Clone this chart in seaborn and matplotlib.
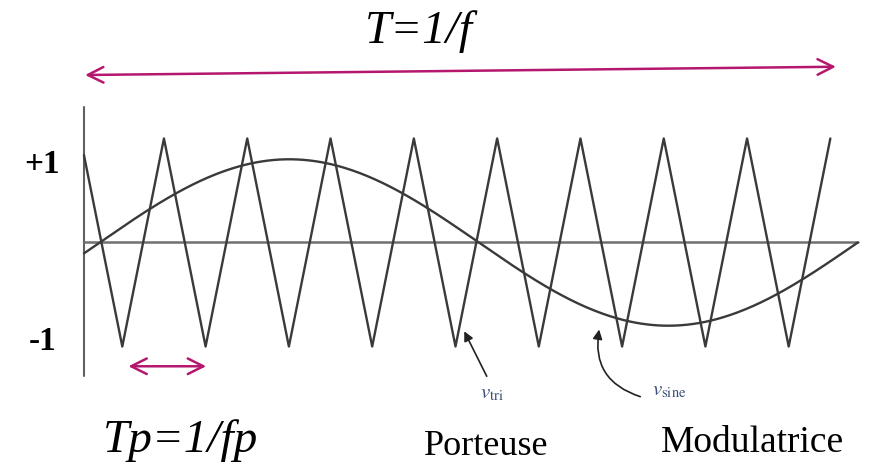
import matplotlib
matplotlib.use("Agg")
import matplotlib.pyplot as plt
import numpy as np
import pandas as pd
import seaborn as sns

# triangle carrier (porteuse): vertices, x in carrier periods
tri_x = [0, 0.46, 0.96, 1.46, 1.96, 2.46, 2.96, 3.46, 3.96, 4.46,
         4.96, 5.46, 5.96, 6.46, 6.96, 7.46, 7.96, 8.46, 8.96]
tri_y = [0.84, -1, 1, -1, 1, -1, 1, -1, 1, -1,
         1, -1, 1, -1, 1, -1, 1, -1, 1]

# sine modulator (modulatrice): amplitude, period and first zero crossing
sine_amp = 0.80
sine_period = 9.1
sine_zero = 0.19
sine_end = 9.29

tick_labels = ["+1", "-1"]
tick_values = [0.755, -0.94]

sns.set_style("white")
plt.rcParams["mathtext.fontset"] = "stix"

fig = plt.figure(figsize=(8.72, 4.64), dpi=100)
ax = fig.add_axes([0, 0, 1, 1])

tri_df = pd.DataFrame({"x": tri_x, "y": tri_y})
sx = np.linspace(0, sine_end, 400)
sine_df = pd.DataFrame({"x": sx, "y": sine_amp * np.sin(2 * np.pi * (sx - sine_zero) / sine_period)})

# axes drawn as lines
ax.plot([0, 0], [-1.28, 1.30], color="#606060", lw=1.5)
ax.plot([0, sine_end], [0, 0], color="#707070", lw=1.8)

sns.lineplot(data=tri_df, x="x", y="y", ax=ax, color="#3a3a3a", lw=1.7, sort=False)
sns.lineplot(data=sine_df, x="x", y="y", ax=ax, color="#3a3a3a", lw=1.7)

ax.set_xlim(-1.008, 9.46)
ax.set_ylim(-2.12, 2.341)
ax.axis("off")

mag = "#b5176f"
ax.annotate("", xy=(9.06, 1.69), xytext=(-0.02, 1.61),
            arrowprops=dict(arrowstyle="<->", color=mag, lw=1.8, mutation_scale=28))
ax.annotate("", xy=(1.50, -1.19), xytext=(0.50, -1.19),
            arrowprops=dict(arrowstyle="<->", color=mag, lw=1.8, mutation_scale=28))

serif = ["Liberation Serif", "DejaVu Serif"]
ax.text(4.02, 1.93, "T=1/f", family=serif, style="italic", fontsize=34,
        ha="center", va="baseline", color="black")
ax.text(1.16, -2.00, "Tp=1/fp", family=serif, style="italic", fontsize=34,
        ha="center", va="baseline", color="black")
for lab, v in zip(tick_labels, tick_values):
    ax.text(-0.50, v, lab, family=serif, weight="bold", fontsize=24,
            ha="center", va="center", color="black")
ax.text(4.83, -2.03, "Porteuse", family=serif, fontsize=26, ha="center",
        va="baseline", color="black")
ax.text(8.02, -2.00, "Modulatrice", family=serif, fontsize=27, ha="center",
        va="baseline", color="black")

blue = "#3b4d7a"
ax.text(4.75, -1.49, r"$v_{\mathrm{tri}}$", color=blue, fontsize=15, va="baseline")
ax.text(6.82, -1.46, r"$v_{\mathrm{sine}}$", color=blue, fontsize=15, va="baseline")
ax.annotate("", xy=(4.55, -0.83), xytext=(4.85, -1.31),
            arrowprops=dict(arrowstyle="-|>", color="#222222", lw=1.2, mutation_scale=14))
ax.annotate("", xy=(6.19, -0.81), xytext=(6.71, -1.49),
            arrowprops=dict(arrowstyle="-|>", color="#222222", lw=1.2, mutation_scale=14,
                            connectionstyle="arc3,rad=-0.45"))

fig.savefig("out.png", dpi=100)
